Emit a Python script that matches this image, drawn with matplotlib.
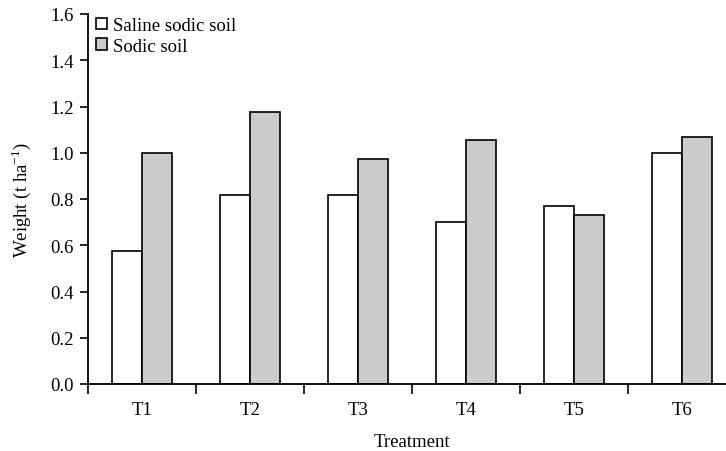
import numpy as np
import matplotlib.pyplot as plt

plt.rcParams['font.family'] = ['Liberation Serif', 'DejaVu Serif']
plt.rcParams['mathtext.fontset'] = 'custom'
plt.rcParams['mathtext.rm'] = 'Liberation Serif'

treatments = ['T1', 'T2', 'T3', 'T4', 'T5', 'T6']
saline_sodic = [0.575, 0.817, 0.819, 0.702, 0.768, 0.999]
sodic = [0.999, 1.177, 0.973, 1.056, 0.729, 1.068]

fig = plt.figure(figsize=(7.26, 4.52), dpi=100)
ax = fig.add_axes([88 / 726, 67 / 452, 648 / 726, 370 / 452])

x = np.arange(len(treatments))
w = 0.275
ax.bar(x - w / 2, saline_sodic, w, color='white', edgecolor='black',
       linewidth=1.2, label='Saline sodic soil')
ax.bar(x + w / 2, sodic, w, color='#cccccc', edgecolor='black',
       linewidth=1.2, label='Sodic soil')

ax.set_xlim(-0.5, 5.5)
ax.set_ylim(0, 1.6)
ax.set_yticks(np.arange(0, 1.61, 0.2))
ax.set_yticklabels(['%.1f' % v for v in np.arange(0, 1.61, 0.2)])

fs = 13.5
# group boundaries carry the ticks, labels sit under each group
ax.set_xticks(np.arange(-0.5, 5.6, 1.0))
ax.set_xticklabels([])
ax.set_xticks(x, minor=True)
ax.set_xticklabels(treatments, minor=True)
ax.tick_params(axis='x', which='major', direction='out', length=7, width=1.2)
ax.tick_params(axis='x', which='minor', length=0, pad=12, labelsize=fs)
ax.tick_params(axis='y', direction='out', length=6, width=1.2, labelsize=fs,
               pad=4)

for side in ['top', 'right']:
    ax.spines[side].set_visible(False)
for side in ['left', 'bottom']:
    ax.spines[side].set_linewidth(1.3)

ax.set_xlabel('Treatment', fontsize=fs, labelpad=11)
ax.set_ylabel('Weight (t ha$^{-1}$)', fontsize=fs, labelpad=13)

ax.legend(loc='upper left', frameon=False, fontsize=fs, handlelength=0.6,
          handleheight=0.6, handletextpad=0.3, borderaxespad=0.2,
          labelspacing=0.2, bbox_to_anchor=(-0.005, 1.022))

fig.savefig('out.png', dpi=100)
